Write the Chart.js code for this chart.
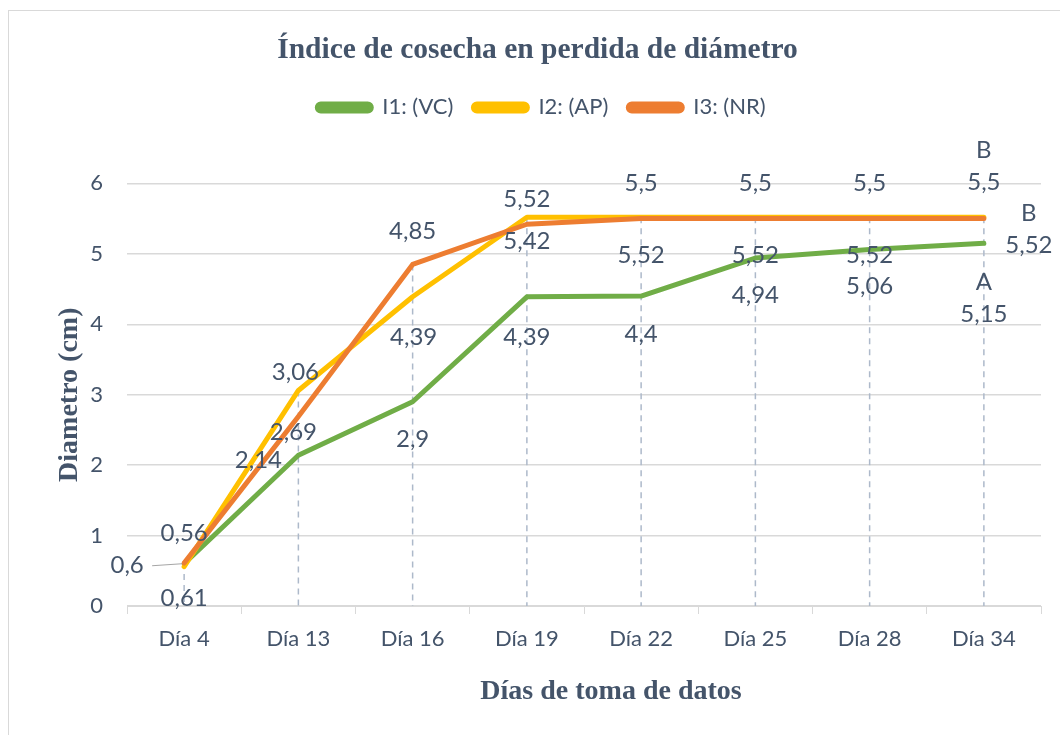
<!DOCTYPE html>
<html>
<head>
<meta charset="utf-8">
<script src="https://cdn.jsdelivr.net/npm/chart.js@4.4.1/dist/chart.umd.min.js"></script>
<style>
html, body { margin: 0; padding: 0; background: #fff; }
</style>
</head>
<body>
<canvas id="grafico" width="1060" height="735"></canvas>
<script>
// datos
const dias = ['Día 4', 'Día 13', 'Día 16', 'Día 19', 'Día 22', 'Día 25', 'Día 28', 'Día 34'];
const i1VC = [0.6, 2.14, 2.9, 4.39, 4.4, 4.94, 5.06, 5.15];
const i2AP = [0.56, 3.06, 4.39, 5.52, 5.52, 5.52, 5.52, 5.52];
const i3NR = [0.61, 2.69, 4.85, 5.42, 5.5, 5.5, 5.5, 5.5];
const letras = ['A', 'B', 'B'];   // letras de significancia, ultimo dia
const nombres = ['I1: (VC)', 'I2: (AP)', 'I3: (NR)'];
const colores = ['#70AD47', '#FFC000', '#ED7D31'];
const tituloX = 'Días de toma de datos';

// donde va cada etiqueta respecto a su punto (dx, dy)
const posEtiquetas = [
  [[-57, 2], [-40, 5], [0, 38], [0, 40], [0, 38], [0, 37], [0, 37], [0, 55]],
  [[0, -33], [-3, -18], [1, 40], [0, -18], [0, 38], [0, 38], [0, 38], [45, 12]],
  [[0, 35], [-5, 16], [0, -33], [0, 17], [0, -35], [0, -35], [0, -35], [0, -52]]
];

const colorTexto = '#44546A';
const fuente = 'Lato, "Open Sans", sans-serif';
const serif = '"Liberation Serif", "Times New Roman", serif';

function fmt(v) {
  return String(v).replace('.', ',');
}

const marcoPlugin = {
  id: 'marco',
  beforeDraw(chart) {
    const ctx = chart.ctx;
    ctx.save();
    ctx.fillStyle = '#fff';
    ctx.fillRect(0, 0, chart.width, chart.height);
    ctx.strokeStyle = '#D9D9D9';
    ctx.lineWidth = 1;
    ctx.strokeRect(8.5, 10.5, chart.width + 20, chart.height + 20);
    ctx.restore();
  },
  beforeLayout(chart) {
    const lg = chart.legend;
    if (lg && !lg._alto) {
      const f = lg.fit;
      lg.fit = function () { f.call(this); this.height = 107; };
      lg._alto = true;
    }
  },
  afterLayout(chart) {
    // el titulo y la leyenda van algo corridos a la derecha, como en Excel
    chart.titleBlock.left += 12;
    chart.titleBlock.right += 12;
    chart.legend.left += 16;
    chart.legend.right += 16;
  },
  afterDraw(chart) {
    const ctx = chart.ctx;
    ctx.save();
    ctx.font = 'bold 28px ' + serif;
    ctx.fillStyle = colorTexto;
    ctx.textAlign = 'center';
    ctx.textBaseline = 'middle';
    ctx.fillText(tituloX, 611, 692);
    ctx.restore();
  }
};

// lineas de caida discontinuas
const caidaPlugin = {
  id: 'caida',
  beforeDatasetsDraw(chart) {
    const ctx = chart.ctx;
    const fondo = chart.scales.y.getPixelForValue(0);
    ctx.save();
    ctx.strokeStyle = '#ADB9CA';
    ctx.lineWidth = 1.5;
    ctx.setLineDash([6, 5]);
    for (let i = 0; i < dias.length; i++) {
      let tope = fondo;
      let x = 0;
      chart.data.datasets.forEach((ds, d) => {
        const p = chart.getDatasetMeta(d).data[i];
        x = p.x;
        if (p.y < tope) tope = p.y;
      });
      ctx.beginPath();
      ctx.moveTo(x, tope);
      ctx.lineTo(x, fondo);
      ctx.stroke();
    }
    ctx.restore();
  }
};

const etiquetasPlugin = {
  id: 'etiquetas',
  afterDatasetsDraw(chart) {
    const ctx = chart.ctx;
    ctx.save();
    ctx.font = '24px ' + fuente;
    ctx.fillStyle = colorTexto;
    ctx.textAlign = 'center';
    ctx.textBaseline = 'middle';
    chart.data.datasets.forEach((ds, d) => {
      const meta = chart.getDatasetMeta(d);
      ds.data.forEach((v, i) => {
        const p = meta.data[i];
        const off = posEtiquetas[d][i];
        const x = p.x + off[0];
        const y = p.y + off[1];
        if (i === ds.data.length - 1) {
          ctx.fillText(letras[d], x, y - 16);
          ctx.fillText(fmt(v), x, y + 16);
        } else {
          ctx.fillText(fmt(v), x, y);
        }
      });
    });
    // linea guia de la etiqueta 0,6
    const p0 = chart.getDatasetMeta(0).data[0];
    ctx.strokeStyle = '#A6A6A6';
    ctx.lineWidth = 1;
    ctx.beginPath();
    ctx.moveTo(p0.x - 32, p0.y + 2);
    ctx.lineTo(p0.x - 2, p0.y);
    ctx.stroke();
    ctx.restore();
  }
};

const series = [i1VC, i2AP, i3NR];

const data = {
  labels: dias,
  datasets: series.map((s, k) => ({
    label: nombres[k],
    data: s,
    borderColor: colores[k],
    backgroundColor: colores[k],
    borderWidth: 5,
    borderCapStyle: 'round',
    borderJoinStyle: 'round',
    pointRadius: 0,
    tension: 0,
    order: 3 - k
  }))
};

const config = {
  type: 'line',
  data: data,
  options: {
    responsive: false,
    animation: false,
    devicePixelRatio: 1,
    layout: { padding: { top: 12, left: 10, right: 19, bottom: 10 } },
    plugins: {
      tooltip: { enabled: false },
      title: {
        display: true,
        text: 'Índice de cosecha en perdida de diámetro',
        color: colorTexto,
        font: { family: serif, size: 29.5, weight: 'bold' },
        padding: { top: 21, bottom: 8 }
      },
      legend: {
        display: true,
        labels: {
          color: colorTexto,
          font: { family: fuente, size: 22 },
          boxWidth: 54,
          boxHeight: 7,
          useBorderRadius: true,
          borderRadius: 3.5,
          padding: 20,
          sort: (a, b) => a.datasetIndex - b.datasetIndex
        }
      }
    },
    scales: {
      x: {
        offset: true,
        border: { display: true, color: '#D9D9D9', width: 1 },
        grid: { display: true, offset: true, drawOnChartArea: false, drawTicks: true, tickLength: 8, color: '#D9D9D9' },
        ticks: { color: colorTexto, font: { family: fuente, size: 22 }, padding: 12, maxRotation: 0 },
        title: { display: false },
        afterFit(scale) { scale.height = 119; }
      },
      y: {
        min: 0,
        max: 6,
        border: { display: false },
        grid: { color: '#D9D9D9', lineWidth: 1.5, drawTicks: false },
        ticks: { stepSize: 1, color: colorTexto, font: { family: fuente, size: 22 }, padding: 24 },
        title: {
          display: true,
          text: 'Diametro (cm)',
          color: colorTexto,
          font: { family: serif, size: 28, weight: 'bold' },
          padding: { top: 43, bottom: 0 }
        },
        afterFit(scale) { scale.width = 117; }
      }
    }
  },
  plugins: [marcoPlugin, caidaPlugin, etiquetasPlugin]
};

const chart = new Chart(document.getElementById('grafico').getContext('2d'), config);
</script>
</body>
</html>
